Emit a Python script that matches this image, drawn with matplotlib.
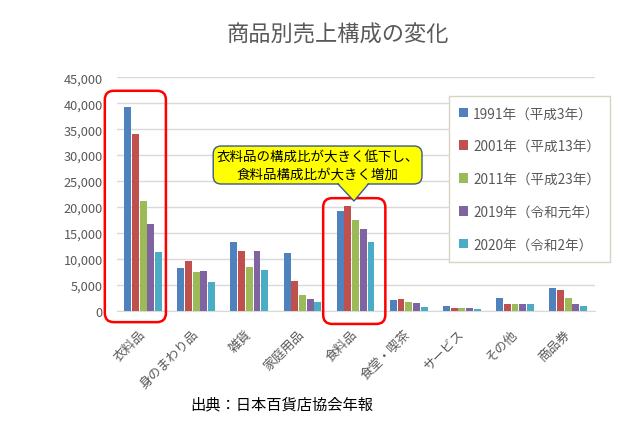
import numpy as np
import matplotlib.pyplot as plt
from matplotlib.patches import FancyBboxPatch, Polygon

plt.rcParams['font.family'] = ['Noto Sans CJK JP', 'DejaVu Sans']

# データ（百万円単位の概算、グラフから読み取り）
categories = ['衣料品', '身のまわり品', '雑貨', '家庭用品', '食料品',
              '食堂・喫茶', 'サービス', 'その他', '商品券']
series_labels = ['1991年（平成3年）', '2001年（平成13年）', '2011年（平成23年）',
                 '2019年（令和元年）', '2020年（令和2年）']
sales_1991 = [39200, 8300, 13300, 11200, 19300, 2100, 900, 2400, 4300]
sales_2001 = [34100, 9600, 11600, 5800, 20100, 2200, 600, 1200, 4000]
sales_2011 = [21200, 7500, 8400, 3000, 17400, 1700, 600, 1200, 2400]
sales_2019 = [16800, 7600, 11500, 2200, 15800, 1400, 600, 1200, 1200]
sales_2020 = [11400, 5500, 7800, 1700, 13200, 800, 400, 1200, 1000]
colors = ['#4F81BD', '#C0504D', '#9BBB59', '#8064A2', '#4BACC6']

all_series = [sales_1991, sales_2001, sales_2011, sales_2019, sales_2020]

fig = plt.figure(figsize=(6.24, 4.35), dpi=100)
ax = fig.add_axes([0.1867, 0.2834, 0.7663, 0.5366])

x = np.arange(len(categories))
step = 0.145
width = 0.13
for i, (vals, lab, c) in enumerate(zip(all_series, series_labels, colors)):
    ax.bar(x + (i - 2) * step, vals, width=width, color=c, label=lab, zorder=3)

ax.set_xlim(-0.5, len(categories) - 0.5)
ax.set_ylim(0, 45000)
ax.set_yticks(np.arange(0, 45001, 5000))
ax.set_yticklabels([f'{v:,}' for v in range(0, 45001, 5000)])
ax.yaxis.grid(True, color='#d9d9d9', lw=1, zorder=0)
for s in ['top', 'right', 'left']:
    ax.spines[s].set_visible(False)
ax.spines['bottom'].set_color('#d9d9d9')
ax.tick_params(axis='y', length=0, pad=10, labelsize=9.2, labelcolor='#595959')
ax.tick_params(axis='x', length=0, pad=15, labelsize=9.2, labelcolor='#595959')
ax.set_xticks(x)
ax.set_xticklabels(categories, rotation=45, ha='right', va='center',
                   rotation_mode='anchor')

# 赤枠（角丸）
aspect = (45000 / 233.4) / (1 / 53.1)
for x0, x1, y0, y1 in [(-0.72, 0.43, -2200, 42400), (3.39, 4.56, -2550, 21700)]:
    box = FancyBboxPatch((x0, y0), x1 - x0, y1 - y0,
                         boxstyle='round,pad=0,rounding_size=0.17',
                         mutation_aspect=aspect, fc='none', ec='#FF0000',
                         lw=1.8, clip_on=False, zorder=5)
    ax.add_patch(box)

# 吹き出し
bx0, bx1, by0, by1 = 1.32, 5.25, 24430, 31750
callout = FancyBboxPatch((bx0, by0), bx1 - bx0, by1 - by0,
                         boxstyle='round,pad=0,rounding_size=0.15',
                         mutation_aspect=aspect, fc='#FFFF00', ec='#3B5A8A',
                         lw=1.0, clip_on=False, zorder=6)
ax.add_patch(callout)
tip = (3.97, 21150)
base_l, base_r = 3.67, 4.24
ax.add_patch(Polygon([(base_l, by0 + 300), (tip[0], tip[1]), (base_r, by0 + 300)],
                     closed=True, fc='#FFFF00', ec='none', zorder=7, clip_on=False))
ax.plot([base_l, tip[0], base_r], [by0, tip[1], by0], color='#3B5A8A', lw=1.0,
        zorder=8, clip_on=False)
ax.text((bx0 + bx1) / 2, (by0 + by1) / 2,
        '衣料品の構成比が大きく低下し、\n食料品構成比が大きく増加',
        ha='center', va='center', fontsize=9.7, color='black',
        linespacing=1.2, zorder=9)

leg = fig.legend(loc='upper left', bbox_to_anchor=(0.719, 0.777),
                 bbox_transform=fig.transFigure, fontsize=9.8,
                 labelcolor='#595959', handlelength=0.7, handleheight=0.7,
                 handletextpad=0.35, labelspacing=1.38, borderpad=0.75,
                 borderaxespad=0, fancybox=False, edgecolor='#d8d4c4',
                 framealpha=1)
leg.get_frame().set_linewidth(1.0)

fig.text(337.5 / 624, 1 - 35 / 435, '商品別売上構成の変化', ha='center', va='center',
         fontsize=16, color='#595959')
fig.text(190 / 624, 1 - 405 / 435, '出典：日本百貨店協会年報', ha='left', va='center',
         fontsize=11, color='black')

fig.savefig('out.png', dpi=100)
